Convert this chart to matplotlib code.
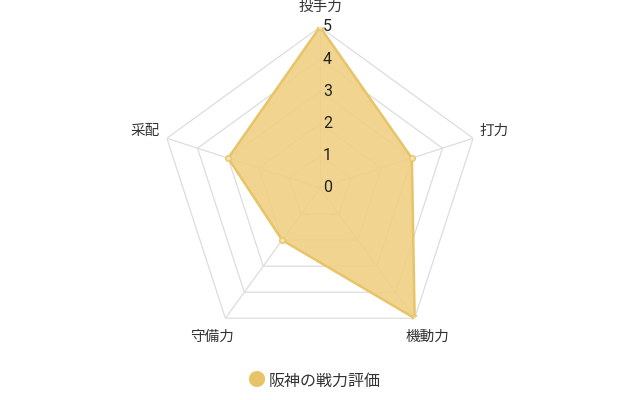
import matplotlib
matplotlib.use('Agg')
import matplotlib.pyplot as plt
from matplotlib.transforms import offset_copy
import numpy as np

plt.rcParams['font.family'] = ['Noto Sans CJK JP', 'DejaVu Sans']

labels = ['投手力', '打力', '機動力', '守備力', '采配']
values = [5, 3, 5, 2, 3]
ticks = [0, 1, 2, 3, 4, 5]
series_name = '阪神の戦力評価'

line_col = '#E8C468'
fill_col = '#F0CF80'
grid_col = '#DDDDDD'

n = len(labels)
theta = np.linspace(0, 2 * np.pi, n, endpoint=False)
theta_c = np.append(theta, theta[0])

fig = plt.figure(figsize=(6.4, 4.0), dpi=100)
# center at (320,188) px, radius ~161 px
w = 161 / 640
h = 161 / 400
cy = 1 - 188 / 400
ax = fig.add_axes([0.5 - w, cy - h, 2 * w, 2 * h], projection='polar')
ax.set_theta_offset(np.pi / 2)
ax.set_theta_direction(-1)
ax.set_ylim(0, ticks[-1])
ax.grid(False)
ax.spines['polar'].set_visible(False)
ax.set_xticks([])
ax.set_yticks([])
ax.patch.set_alpha(0)

# pentagon grid
for t in ticks[1:]:
    ax.plot(theta_c, [t] * (n + 1), color=grid_col, lw=0.9, zorder=1)
for th in theta:
    ax.plot([th, th], [0, ticks[-1]], color=grid_col, lw=0.9, zorder=1)

vals_c = values + values[:1]
ax.fill(theta_c, vals_c, color=fill_col, alpha=0.88, zorder=2, lw=0)
ax.plot(theta_c, vals_c, color=line_col, lw=1.8, zorder=3)
ax.plot(theta, values, 'o', ms=4, mfc='#F5E3B0', mec=line_col, mew=1, zorder=4)

tick_tr = offset_copy(ax.transData, fig=fig, x=2, y=0, units='points')
for t in ticks:
    ax.text(0, t, str(t), ha='left', va='center', fontsize=11.5, color='#222222',
            family=['Roboto', 'DejaVu Sans'], zorder=5, transform=tick_tr)

for th, lab in zip(theta, labels):
    r = 5.62 if th == 0 else 5.7
    ax.text(th, r, lab, ha='center', va='center', fontsize=10.5, color='#333333',
            clip_on=False)

# legend
fig.text(256 / 640, 1 - 381 / 400, '●', ha='center', va='center', color=line_col,
         fontsize=13)
fig.text(269 / 640, 1 - 381 / 400, series_name, ha='left', va='center',
         fontsize=11.5, color='#333333')

fig.savefig('out.png', dpi=100)
